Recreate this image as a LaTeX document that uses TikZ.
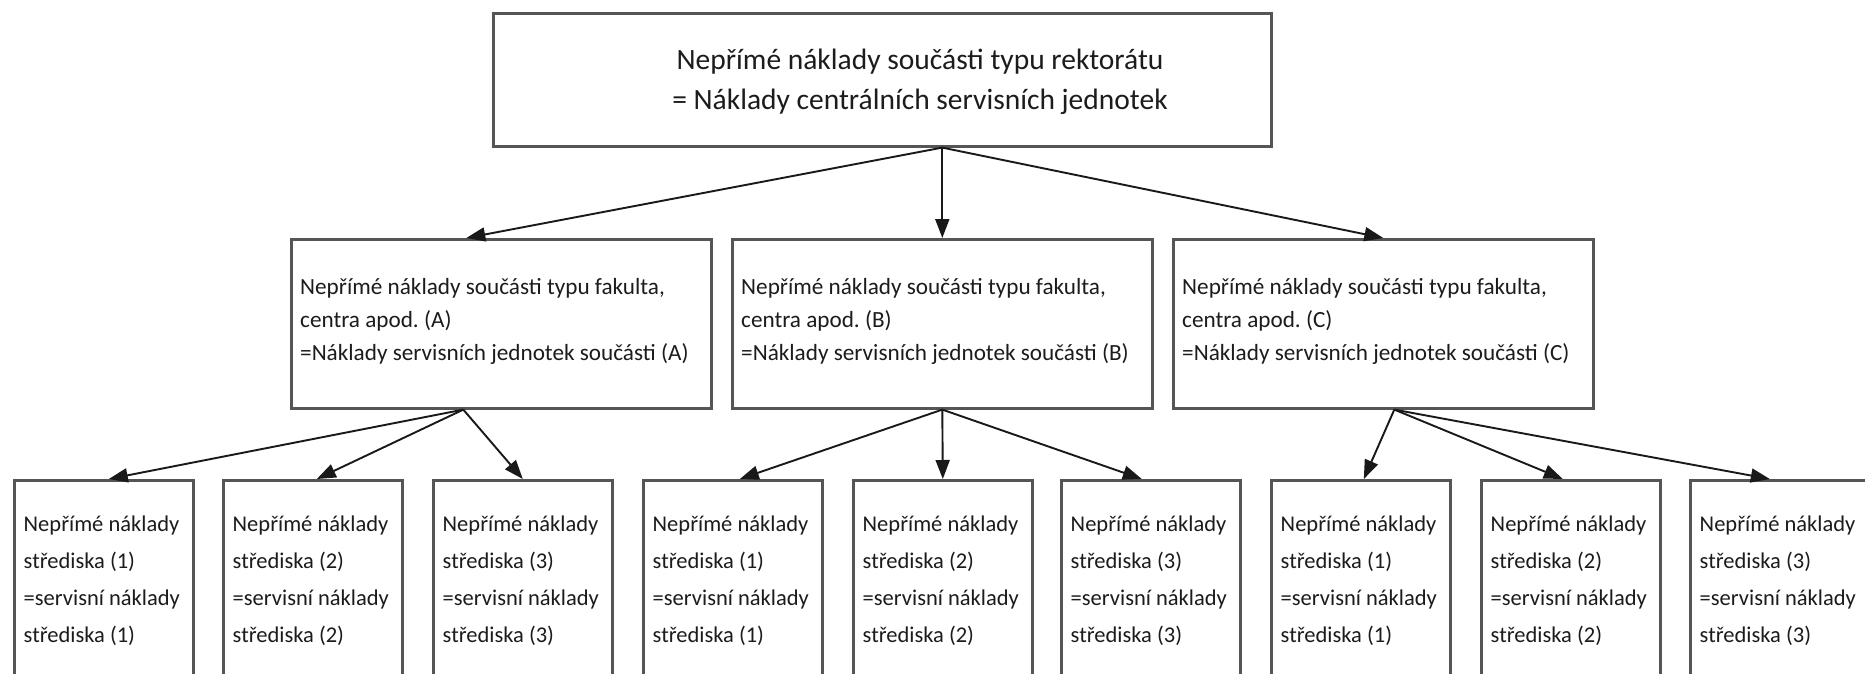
\documentclass[tikz,border=0pt]{standalone}
\usepackage{fontspec}
\setmainfont{Carlito}
\usetikzlibrary{arrows.meta}
\definecolor{boxgray}{HTML}{555555}
\definecolor{ink}{HTML}{1C1C1C}
\frenchspacing
\begin{document}
\begin{tikzpicture}[x=1pt,y=-1pt,
  frame/.style={rectangle, draw=boxgray, line width=2.6pt, inner sep=0pt, anchor=north west},
  topbox/.style={frame, minimum width=778pt, minimum height=133pt},
  midbox/.style={frame, minimum width=420pt, minimum height=169pt},
  leafbox/.style={frame, minimum width=179pt, minimum height=230pt},
  % multi-line nodes: the base anchor sits on the last line
  toptxt/.style={inner sep=0pt, anchor=base, align=center, text=ink, font=\fontsize{29.5}{40}\selectfont},
  midtxt/.style={inner sep=0pt, anchor=base west, align=left, text=ink, font=\fontsize{23.2}{33}\selectfont},
  leaftxt/.style={inner sep=0pt, anchor=base west, align=left, text=ink, font=\fontsize{22.5}{37}\selectfont},
  arr/.style={draw=black!90, line width=1.9pt, -{Triangle[length=19pt,width=14pt]}}
]
\useasboundingbox (0,0) rectangle (1865,673);
\fill[white] (0,0) rectangle (1865,673);
\clip (0,0) rectangle (1865,673);

% top level
\node[topbox] (top) at (492,12) {};
\node[toptxt] (toptext) at (920,109) {Nepřímé náklady součásti typu rektorátu\\= Náklady centrálních servisních jednotek};

% second level
\node[midbox] (A) at (290,238) {};
\node[midbox] (B) at (731,238) {};
\node[midbox] (C) at (1172,238) {};
\node[midtxt] (At) at (300,360) {Nepřímé náklady součásti typu fakulta,\\centra apod. (A)\\=Náklady servisních jednotek součásti (A)};
\node[midtxt] (Bt) at (741,360) {Nepřímé náklady součásti typu fakulta,\\centra apod. (B)\\=Náklady servisních jednotek součásti (B)};
\node[midtxt] (Ct) at (1182,360) {Nepřímé náklady součásti typu fakulta,\\centra apod. (C)\\=Náklady servisních jednotek součásti (C)};

% third level
\foreach \i/\x/\n in {1/13/1, 2/222/2, 3/432/3, 4/642/1, 5/852/2, 6/1060/3, 7/1270/1, 8/1480/2, 9/1689/3} {
  \node[leafbox] (b\i) at (\x,479) {};
  \node[leaftxt] (b\i t) at ([xshift=10.5pt,yshift=-163pt]b\i.north west)
    {Nepřímé náklady\\střediska (\n)\\=servisní náklady\\střediska (\n)};
}

% connectors
\draw[arr] (top.south -| B.north) -- ([xshift=-35pt]A.north);
\draw[arr] (top.south -| B.north) -- (B.north);
\draw[arr] (top.south -| B.north) -- (C.north);

\draw[arr] ([xshift=-38pt]A.south) -- ([xshift=5pt]b1.north);
\draw[arr] ([xshift=-38pt]A.south) -- ([xshift=4pt]b2.north);
\draw[arr] ([xshift=-38pt]A.south) -- (b3.north);

\draw[arr] (B.south) -- ([xshift=7pt]b4.north);
\draw[arr] (B.south) -- (b5.north);
\draw[arr] (B.south) -- ([xshift=-9pt]b6.north);

\draw[arr] ([xshift=11pt]C.south) -- ([xshift=3pt]b7.north);
\draw[arr] ([xshift=11pt]C.south) -- ([xshift=-8pt]b8.north);
\draw[arr] ([xshift=11pt]C.south) -- ([xshift=-10pt]b9.north);
\end{tikzpicture}
\end{document}
